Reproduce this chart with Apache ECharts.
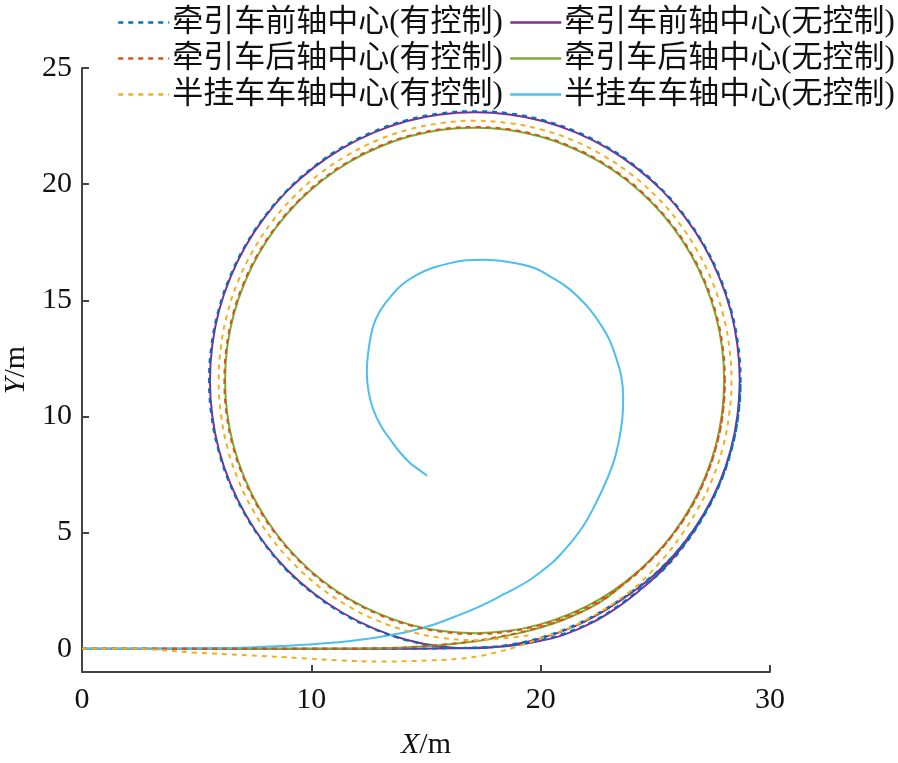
<!DOCTYPE html>
<html><head><meta charset="utf-8">
<script src="https://cdn.jsdelivr.net/npm/echarts@6/dist/echarts.min.js"></script>
<style>html,body{margin:0;padding:0;background:#fff}#c{width:898px;height:763px}</style>
</head><body><div id="c"></div>
<script>
const seriesNames = [
  '牵引车前轴中心(有控制)', '牵引车前轴中心(无控制)',
  '牵引车后轴中心(有控制)', '牵引车后轴中心(无控制)',
  '半挂车车轴中心(有控制)', '半挂车车轴中心(无控制)'
];
const xTicks = [0, 10, 20, 30];
const yTicks = [0, 5, 10, 15, 20, 25];

// tractor front axle centre, no control
const frontNoCtrl = [[0,0],[5,0],[10,0],[14,0],[16,0.02],[17.5,0.06],[18.6,0.12],[19.8,0.3],[21,0.6],[22.2,1.1],[23.3,1.75],[24.3,2.5],[25.30,3.38],[26.29,4.52],[27.13,5.78],[27.80,7.13],[28.29,8.56],[28.58,10.04],[28.68,11.55],[28.58,13.06],[28.29,14.54],[27.80,15.97],[27.13,17.33],[26.29,18.58],[25.30,19.72],[24.16,20.71],[22.91,21.55],[21.55,22.22],[20.12,22.71],[18.64,23.00],[17.13,23.10],[15.62,23.00],[14.14,22.71],[12.71,22.22],[11.36,21.55],[10.10,20.71],[8.96,19.72],[7.97,18.58],[7.13,17.33],[6.46,15.97],[5.97,14.54],[5.68,13.06],[5.58,11.55],[5.68,10.04],[5.97,8.56],[6.46,7.13],[7.13,5.78],[7.97,4.52],[8.96,3.38],[10.10,2.39],[11.36,1.55],[12.71,0.88],[14.14,0.39],[15.62,0.10],[17.13,0.02],[18.64,0.15],[20.12,0.48],[21.55,1.0],[22.91,1.72],[24.16,2.55],[25.30,3.5],[26.29,4.6],[27.13,5.83],[27.80,7.15],[28.29,8.58],[28.58,10.05],[28.68,11.55]];
// tractor front axle centre, with control
const frontCtrl = [[0,0],[5,0],[10,0],[14,0],[16,0.02],[17.5,0.07],[18.6,0.14],[19.8,0.33],[21,0.65],[22.2,1.15],[23.3,1.8],[24.3,2.55],[25.32,3.37],[26.31,4.51],[27.15,5.77],[27.83,7.12],[28.32,8.55],[28.62,10.04],[28.72,11.55],[28.62,13.06],[28.32,14.55],[27.83,15.98],[27.15,17.35],[26.31,18.60],[25.32,19.74],[24.18,20.74],[22.93,21.58],[21.57,22.26],[20.13,22.75],[18.65,23.05],[17.13,23.14],[15.61,23.05],[14.13,22.75],[12.69,22.26],[11.33,21.58],[10.08,20.74],[8.94,19.74],[7.95,18.60],[7.11,17.35],[6.43,15.98],[5.94,14.55],[5.64,13.06],[5.54,11.55],[5.64,10.04],[5.94,8.56],[6.43,7.12],[7.11,5.77],[7.95,4.51],[8.94,3.36],[10.08,2.37],[11.33,1.53],[12.69,0.86],[14.13,0.37],[15.61,0.09],[17.13,0.03],[18.64,0.18],[20.12,0.52],[21.55,1.05],[22.91,1.77],[24.16,2.6],[25.30,3.53],[26.29,4.62],[27.15,5.85],[27.83,7.16],[28.32,8.58],[28.62,10.05],[28.72,11.55]];
// tractor rear axle centre, no control
const rearNoCtrl = [[0,0],[5,0],[10,0],[13,0.02],[15.2,0.12],[17,0.3],[18.2,0.5],[19.5,0.78],[21,1.25],[22.5,1.95],[23.7,2.85],[24.81,3.86],[25.75,4.93],[26.54,6.11],[27.17,7.39],[27.63,8.73],[27.91,10.13],[28.00,11.55],[27.91,12.97],[27.63,14.37],[27.17,15.71],[26.54,16.99],[25.75,18.17],[24.81,19.24],[23.74,20.18],[22.56,20.97],[21.28,21.60],[19.94,22.06],[18.54,22.34],[17.12,22.43],[15.70,22.34],[14.30,22.06],[12.96,21.60],[11.68,20.97],[10.50,20.18],[9.43,19.24],[8.49,18.17],[7.70,16.99],[7.07,15.71],[6.61,14.37],[6.33,12.97],[6.24,11.55],[6.33,10.13],[6.61,8.73],[7.07,7.39],[7.70,6.11],[8.49,4.93],[9.43,3.86],[10.50,2.92],[11.68,2.13],[12.96,1.50],[14.30,1.04],[15.70,0.76],[17.12,0.67],[18.54,0.76],[19.94,1.04],[21.28,1.50],[22.56,2.13],[23.74,2.92],[24.81,3.86],[25.75,4.93],[26.54,6.11],[27.17,7.39],[27.63,8.73],[27.91,10.13],[28.00,11.55]];
// tractor rear axle centre, with control
const rearCtrl = [[0,0],[5,0],[10,0],[13,0.02],[15.2,0.13],[17,0.32],[18.2,0.52],[19.5,0.8],[21,1.27],[22.5,1.97],[23.7,2.86],[24.83,3.85],[25.77,4.92],[26.57,6.10],[27.20,7.38],[27.66,8.73],[27.94,10.13],[28.03,11.55],[27.94,12.98],[27.66,14.38],[27.20,15.72],[26.57,17.00],[25.77,18.19],[24.83,19.26],[23.76,20.21],[22.57,21.00],[21.29,21.63],[19.95,22.09],[18.54,22.37],[17.12,22.46],[15.70,22.37],[14.29,22.09],[12.95,21.63],[11.67,21.00],[10.48,20.21],[9.41,19.26],[8.47,18.19],[7.67,17.00],[7.04,15.72],[6.58,14.38],[6.30,12.98],[6.21,11.55],[6.30,10.12],[6.58,8.72],[7.04,7.38],[7.67,6.10],[8.47,4.91],[9.41,3.84],[10.48,2.89],[11.67,2.10],[12.95,1.47],[14.29,1.01],[15.70,0.73],[17.12,0.64],[18.54,0.73],[19.95,1.01],[21.29,1.47],[22.57,2.10],[23.76,2.89],[24.83,3.84],[25.77,4.91],[26.57,6.10],[27.20,7.38],[27.66,8.72],[27.94,10.12],[28.03,11.55]];
// semi-trailer axle centre, with control
const trailerCtrl = [[0,0],[2,0],[3,-0.03],[5,-0.17],[7.3,-0.28],[9.5,-0.4],[11.2,-0.5],[13.1,-0.55],[15.2,-0.5],[16.5,-0.42],[17.4,-0.3],[18.2,-0.12],[18.8,0.04],[20,0.45],[21.7,1.1],[23.9,2.47],[25.3,3.83],[26.1,4.85],[26.82,5.96],[27.47,7.27],[27.94,8.66],[28.22,10.09],[28.32,11.55],[28.22,13.01],[27.94,14.44],[27.47,15.83],[26.82,17.14],[26.01,18.36],[25.05,19.46],[23.95,20.42],[22.73,21.23],[21.42,21.88],[20.03,22.35],[18.60,22.63],[17.14,22.73],[15.68,22.63],[14.25,22.35],[12.86,21.88],[11.55,21.23],[10.33,20.42],[9.24,19.46],[8.27,18.36],[7.46,17.14],[6.81,15.83],[6.34,14.44],[6.06,13.01],[5.96,11.55],[6.06,10.09],[6.34,8.66],[6.81,7.27],[7.46,5.96],[8.27,4.74],[9.24,3.65],[10.33,2.68],[11.55,1.87],[12.86,1.22],[14.25,0.75],[15.68,0.47],[17.14,0.37],[18.60,0.47],[19.5,0.58]];
// semi-trailer axle centre, no control
const trailerNoCtrl = [[0,0],[3,0],[5.1,0.02],[7.3,0.06],[9.5,0.16],[11.7,0.33],[13.9,0.67],[15.2,1.0],[16.3,1.4],[17.4,1.85],[18.4,2.35],[19.5,2.95],[20.5,3.7],[20.9,4.1],[21.3,4.55],[21.9,5.35],[22.4,6.25],[22.85,7.2],[23.2,8.1],[23.42,9.0],[23.56,9.9],[23.6,10.8],[23.52,11.7],[23.3,12.5],[23.0,13.3],[22.6,13.98],[22.15,14.6],[21.65,15.13],[21.1,15.6],[20.42,16.02],[19.7,16.4],[18.6,16.65],[17.5,16.75],[16.75,16.72],[16.05,16.6],[15.3,16.4],[14.6,16.1],[13.95,15.67],[13.45,15.15],[13.0,14.55],[12.7,13.9],[12.5,12.9],[12.42,11.86],[12.5,11.05],[12.7,10.3],[13.03,9.6],[13.45,9.0],[13.85,8.47],[14.3,8.0],[14.7,7.7],[15.05,7.45]];

const colors = {
  blue: '#0072BD', purple: '#7E2F8E', red: '#D95319',
  green: '#77AC30', yellow: '#EDB120', cyan: '#4DBEEE'
};
const FONT = "'Liberation Serif', 'Noto Sans CJK SC', serif";
const dash = [5, 5];

function line(name, data, color, dashed, z) {
  return {
    name, type: 'line', data, smooth: 0.4, symbol: 'none', showSymbol: false,
    z, lineStyle: { color, width: 2, type: dashed ? dash : 'solid' },
    itemStyle: { color }, animation: false
  };
}

const chart = echarts.init(document.getElementById('c'), null, { renderer: 'canvas' });
const axisColor = '#444';
const labelStyle = { fontSize: 30, fontFamily: FONT, color: '#111' };
const legendCommon = {
  top: 2, orient: 'vertical', itemGap: 5, itemWidth: 51, itemHeight: 14,
  itemStyle: { opacity: 0 },
  lineStyle: { width: 2.5 },
  textStyle: { fontSize: 31, fontFamily: FONT, color: '#111', padding: [0, 0, 0, -2] }
};

chart.setOption({
  backgroundColor: '#fff',
  animation: false,
  grid: { left: 82, right: 128, top: 68, bottom: 91, containLabel: false, outerBoundsMode: 'none' },
  legend: [
    Object.assign({ left: 112, data: [seriesNames[0], seriesNames[2], seriesNames[4]] }, legendCommon),
    Object.assign({ left: 504, data: [seriesNames[1], seriesNames[3], seriesNames[5]] }, legendCommon)
  ],
  xAxis: {
    type: 'value', min: 0, max: 30, interval: 10,
    axisLine: { show: true, onZero: false, lineStyle: { color: axisColor, width: 2 } },
    axisTick: { show: true, inside: true, length: 7, lineStyle: { color: axisColor, width: 2 }, customValues: xTicks },
    axisLabel: Object.assign({ margin: 13, customValues: xTicks }, labelStyle),
    splitLine: { show: false },
    name: '{i|X}/m', nameLocation: 'middle', nameGap: 58,
    nameTextStyle: Object.assign({ rich: { i: { fontStyle: 'italic', fontSize: 30, fontFamily: FONT, color: '#111' } } }, labelStyle)
  },
  yAxis: {
    type: 'value', min: -1, max: 25,
    axisLine: { show: true, onZero: false, lineStyle: { color: axisColor, width: 2 } },
    axisTick: { show: true, inside: true, length: 7, lineStyle: { color: axisColor, width: 2 }, customValues: yTicks },
    axisLabel: Object.assign({ margin: 10, customValues: yTicks }, labelStyle),
    splitLine: { show: false },
    name: '{i|Y}/m', nameLocation: 'middle', nameGap: 50, nameRotate: 90,
    nameTextStyle: Object.assign({ rich: { i: { fontStyle: 'italic', fontSize: 30, fontFamily: FONT, color: '#111' } } }, labelStyle)
  },
  series: [
    line(seriesNames[1], frontNoCtrl, colors.purple, false, 2),
    line(seriesNames[3], rearNoCtrl, colors.green, false, 2),
    line(seriesNames[5], trailerNoCtrl, colors.cyan, false, 2),
    line(seriesNames[0], frontCtrl, colors.blue, true, 3),
    line(seriesNames[2], rearCtrl, colors.red, true, 3),
    line(seriesNames[4], trailerCtrl, colors.yellow, true, 3)
  ]
});
</script></body></html>
